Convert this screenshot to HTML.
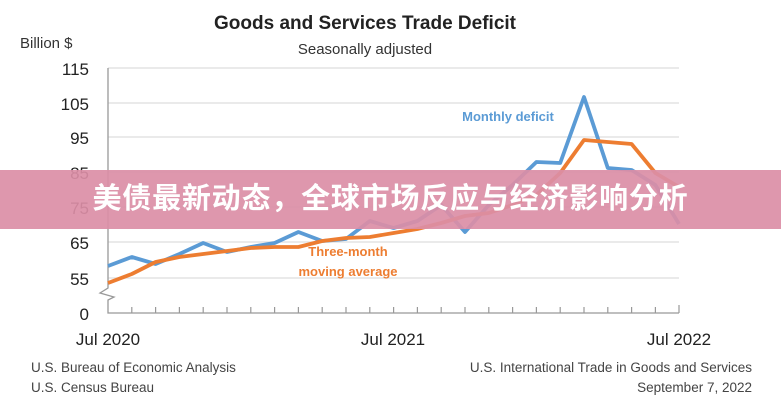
<!DOCTYPE html>
<html><head><meta charset="utf-8"><style>
body{margin:0;width:781px;height:400px;background:#fff;overflow:hidden;font-family:"Liberation Sans","Noto Sans CJK SC",sans-serif;}
svg{position:absolute;left:0;top:0}
.banner{position:absolute;left:0;top:170px;width:781px;height:59px;background:rgba(219,142,166,0.92);color:#fff;font-weight:bold;font-size:29px;line-height:59px;text-align:center;letter-spacing:0.8px;font-family:"Liberation Sans","Noto Sans CJK SC",sans-serif}
</style></head><body>
<svg width="781" height="400" xmlns="http://www.w3.org/2000/svg" font-family="Liberation Sans, sans-serif">
<text x="365" y="29" font-size="19" font-weight="bold" text-anchor="middle" fill="#222">Goods and Services Trade Deficit</text>
<text x="365" y="54" font-size="15" text-anchor="middle" fill="#333">Seasonally adjusted</text>
<text x="20" y="48" font-size="15" fill="#333">Billion $</text>
<g stroke="#e3e3e3" stroke-width="1.5">
<line x1="108" y1="68" x2="679" y2="68"/><line x1="108" y1="103" x2="679" y2="103"/><line x1="108" y1="137" x2="679" y2="137"/><line x1="108" y1="172" x2="679" y2="172"/><line x1="108" y1="207" x2="679" y2="207"/><line x1="108" y1="242" x2="679" y2="242"/><line x1="108" y1="278" x2="679" y2="278"/>
</g>
<g font-size="17" fill="#222" text-anchor="end">
<text x="89" y="75">115</text><text x="89" y="110">105</text><text x="89" y="144">95</text><text x="89" y="179">85</text><text x="89" y="214">75</text><text x="89" y="249">65</text><text x="89" y="285">55</text><text x="89" y="320">0</text>
</g>
<path d="M108 68 V288 L100 293 L114 297 L108 300 V313 H679" fill="none" stroke="#999" stroke-width="1.3"/>
<path d="M131.8 313v-6M155.6 313v-6M179.4 313v-6M203.2 313v-6M227 313v-6M250.8 313v-6M274.6 313v-6M298.4 313v-6M322.2 313v-6M346 313v-6M369.8 313v-6M393.6 313v-6M417.4 313v-6M441.2 313v-6M465 313v-6M488.8 313v-6M512.6 313v-6M536.4 313v-6M560.2 313v-6M584 313v-6M607.8 313v-6M631.6 313v-6M655.4 313v-6M679 313v-8" stroke="#999" stroke-width="1.2"/>
<polyline fill="none" stroke="#5b9bd5" stroke-width="3.8" stroke-linejoin="round" points="108,266 131.8,257 155.6,264 179.4,254 203.2,243 227,252 250.8,247 274.6,243 298.4,232 322.2,241 346,239 369.8,221 393.6,228 417.4,221 441.2,205 465,232 488.8,205 512.6,185 536.4,162 560.2,163 584,97 607.8,168 631.6,170 655.4,185 679,224"/>
<polyline fill="none" stroke="#ed7d31" stroke-width="3.8" stroke-linejoin="round" points="108,283 131.8,274 155.6,262 179.4,257 203.2,254 227,251 250.8,248 274.6,247 298.4,247 322.2,241 346,238 369.8,237 393.6,233 417.4,229 441.2,223 465,216 488.8,213 512.6,205 536.4,195 560.2,173 584,140 607.8,142 631.6,144 655.4,173 679,187"/>
<text x="508" y="121" font-size="13" font-weight="bold" fill="#5b9bd5" text-anchor="middle">Monthly deficit</text>
<text x="348" y="256" font-size="13" font-weight="bold" fill="#ed7d31" text-anchor="middle">Three-month</text>
<text x="348" y="276" font-size="13" font-weight="bold" fill="#ed7d31" text-anchor="middle">moving average</text>
<g font-size="17" fill="#222" text-anchor="middle">
<text x="108" y="345">Jul 2020</text><text x="393" y="345">Jul 2021</text><text x="679" y="345">Jul 2022</text>
</g>
<g font-size="13.5" fill="#444">
<text x="31" y="372">U.S. Bureau of Economic Analysis</text>
<text x="31" y="392">U.S. Census Bureau</text>
<text x="752" y="372" text-anchor="end">U.S. International Trade in Goods and Services</text>
<text x="752" y="392" text-anchor="end">September 7, 2022</text>
</g>
</svg>
<div class="banner">美债最新动态，全球市场反应与经济影响分析</div>
</body></html>
